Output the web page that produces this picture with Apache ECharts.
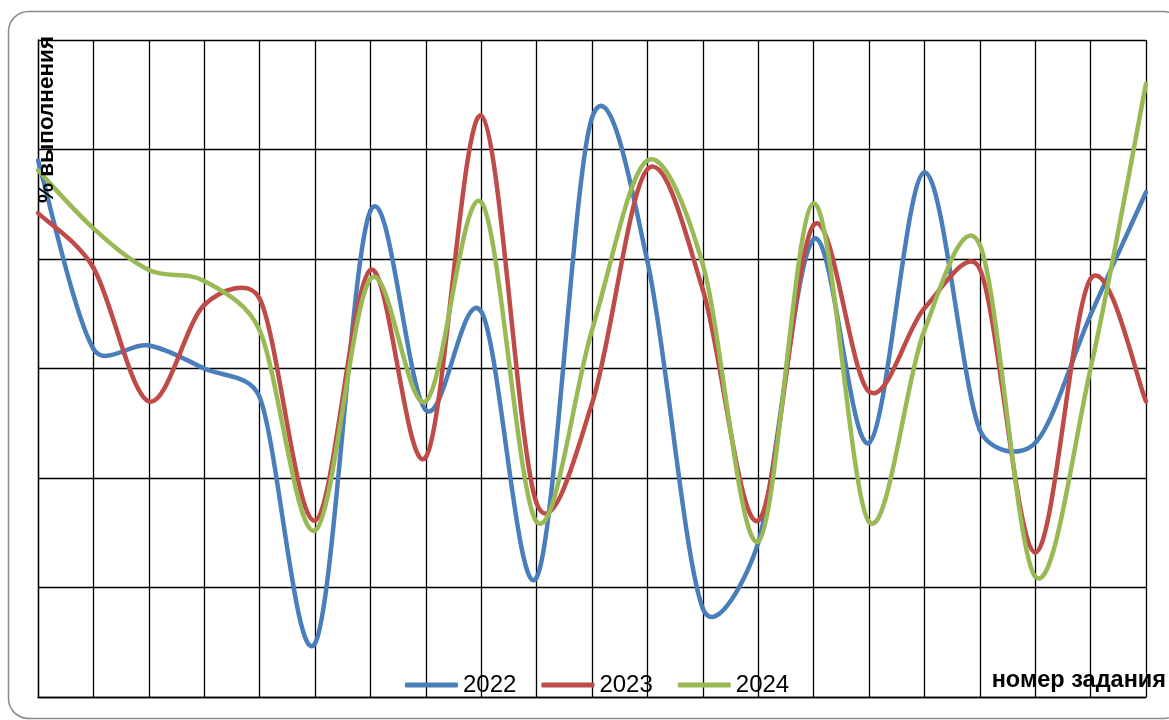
<!DOCTYPE html>
<html>
<head>
<meta charset="utf-8">
<script src="https://cdn.jsdelivr.net/npm/echarts@6/dist/echarts.min.js"></script>
<style>
  html, body { margin: 0; padding: 0; background: #ffffff; }
  #chart { width: 1169px; height: 720px; }
</style>
</head>
<body>
<div id="chart"></div>
<script>
// Task numbers along the horizontal axis
const tasks = ['1','2','3','4','5','6','7','8','9','10','11','12','13','14','15','16','17','18','19','20','21'];

// Completion percentage per task, by year
const y2022 = [49.0, 31.8, 32.1, 30.0, 27.4, 4.9, 44.4, 26.2, 35.2, 10.9, 52.9, 39.8, 8.1, 14.1, 41.8, 23.2, 47.9, 24.4, 23.2, 34.9, 46.1];
const y2023 = [44.2, 39.2, 27.0, 35.8, 36.4, 16.1, 39.0, 21.9, 53.1, 17.7, 26.8, 48.2, 37.2, 16.1, 43.1, 27.9, 35.5, 39.1, 13.2, 38.2, 27.0];
const y2024 = [48.1, 42.8, 39.0, 38.0, 33.5, 15.2, 38.2, 27.0, 45.2, 16.0, 33.5, 49.0, 39.5, 14.2, 45.1, 16.0, 33.5, 41.3, 11.0, 30.0, 56.0];

const years = ['2022', '2023', '2024'];
const colors = ['#4A7EBB', '#BE4B48', '#98B954'];

const chart = echarts.init(document.getElementById('chart'), null, { renderer: 'canvas' });

// Limit a Bezier handle to a share of the segment it belongs to,
// so short flat stretches do not bulge.
function capHandle(hx, hy, segLen) {
  const len = Math.sqrt(hx * hx + hy * hy);
  const maxLen = 0.4 * segLen;
  if (len > maxLen && len > 0) {
    const k = maxLen / len;
    return [hx * k, hy * k];
  }
  return [hx, hy];
}

// Smoothed curve through every point: cubic Bezier segments whose handles
// are one sixth of the neighbour chord (Catmull-Rom style), capped per segment.
function smoothCurve(values, color) {
  return function (params, api) {
    if (params.dataIndex !== 0) return null;
    const pts = values.map(function (v, i) { return api.coord([i, v]); });
    const n = pts.length;
    const children = [];
    for (let i = 0; i < n - 1; i++) {
      const p0 = pts[Math.max(i - 1, 0)];
      const p1 = pts[i];
      const p2 = pts[i + 1];
      const p3 = pts[Math.min(i + 2, n - 1)];
      const seg = Math.sqrt((p2[0] - p1[0]) * (p2[0] - p1[0]) + (p2[1] - p1[1]) * (p2[1] - p1[1]));
      const h1 = capHandle((p2[0] - p0[0]) / 6, (p2[1] - p0[1]) / 6, seg);
      const h2 = capHandle((p3[0] - p1[0]) / 6, (p3[1] - p1[1]) / 6, seg);
      children.push({
        type: 'bezierCurve',
        shape: {
          x1: p1[0], y1: p1[1],
          cpx1: p1[0] + h1[0], cpy1: p1[1] + h1[1],
          cpx2: p2[0] - h2[0], cpy2: p2[1] - h2[1],
          x2: p2[0], y2: p2[1]
        },
        style: { fill: null, stroke: color, lineWidth: 4.5, lineCap: 'round', lineJoin: 'round' }
      });
    }
    return { type: 'group', children: children };
  };
}

function makeSeries(name, values, color) {
  return {
    name: name,
    type: 'custom',
    data: values.map(function (v, i) { return [i, v]; }),
    encode: { x: 0, y: 1 },
    itemStyle: { color: color },
    renderItem: smoothCurve(values, color),
    clip: false,
    z: 3
  };
}

chart.setOption({
  animation: false,
  backgroundColor: '#ffffff',
  grid: { left: 38, top: 40, right: 23, bottom: 23, containLabel: false },
  xAxis: {
    type: 'category',
    data: tasks,
    boundaryGap: false,
    axisLine: { show: true, lineStyle: { color: '#000', width: 1.3 } },
    axisTick: { show: false },
    axisLabel: { show: false },
    splitLine: { show: true, lineStyle: { color: '#000', width: 1.3 } }
  },
  yAxis: {
    type: 'value',
    min: 0,
    max: 60,
    interval: 10,
    axisLine: { show: true, lineStyle: { color: '#000', width: 1.3 } },
    axisTick: { show: false },
    axisLabel: { show: false },
    splitLine: { show: true, lineStyle: { color: '#000', width: 1.3 } }
  },
  legend: {
    data: years,
    left: 405,
    top: 673,
    padding: 0,
    icon: 'roundRect',
    itemWidth: 53,
    itemHeight: 5,
    itemGap: 25,
    textStyle: { fontFamily: 'Liberation Sans', fontSize: 24, color: '#000' }
  },
  graphic: [
    {
      type: 'rect',
      silent: true,
      z: -10,
      shape: { x: 8.5, y: 11.5, width: 1175, height: 707, r: 20 },
      style: { fill: 'none', stroke: '#8a8a8a', lineWidth: 1.5 }
    },
    {
      type: 'text',
      silent: true,
      z: 10,
      x: 47,
      y: 203,
      rotation: Math.PI / 2,
      style: {
        text: '% выполнения',
        font: 'bold 22.5px "Liberation Sans"',
        fill: '#000',
        textAlign: 'left',
        textVerticalAlign: 'middle'
      }
    },
    {
      type: 'text',
      silent: true,
      z: 10,
      x: 1166,
      y: 681,
      style: {
        text: 'номер задания',
        font: 'bold 23.5px "Liberation Sans"',
        fill: '#000',
        textAlign: 'right',
        textVerticalAlign: 'middle'
      }
    }
  ],
  series: [
    makeSeries(years[0], y2022, colors[0]),
    makeSeries(years[1], y2023, colors[1]),
    makeSeries(years[2], y2024, colors[2])
  ]
});
</script>
</body>
</html>
